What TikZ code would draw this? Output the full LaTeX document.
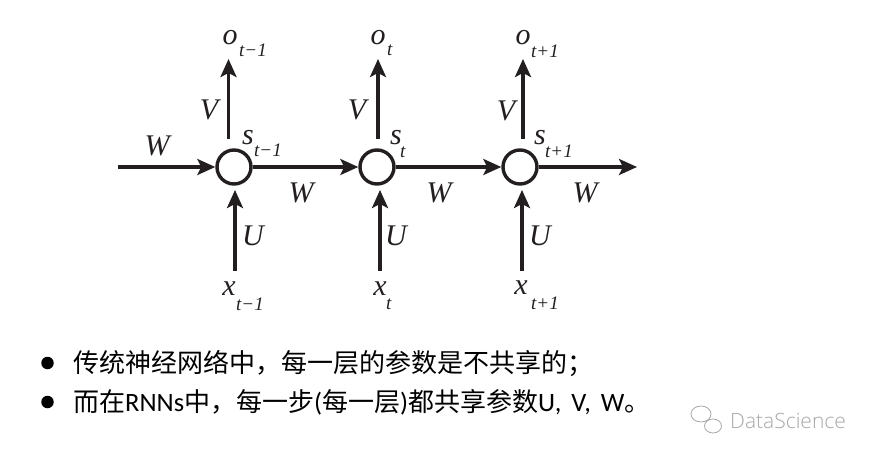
\documentclass[tikz,border=0pt]{standalone}
\usepackage{fontspec}
\setmainfont{Liberation Serif}
\newfontfamily\cjk{Noto Sans CJK SC}
\newfontfamily\carl{Carlito}
\newfontfamily\wmfont{Open Sans Light}
\usetikzlibrary{arrows.meta}
\definecolor{arrowc}{HTML}{231F20}
\definecolor{wmgrey}{HTML}{A8A8A8}
\newcommand{\lt}[1]{{\carl\fontsize{26.5}{29}\selectfont #1}}
\begin{document}
\begin{tikzpicture}[x=1pt,y=-1pt,
  cell/.style={circle, draw=arrowc, line width=3.4pt, minimum size=34pt, inner sep=0pt},
  arr/.style={line width=3.2pt, draw=arrowc, -{Stealth[length=18pt,width=16pt,inset=4pt]}},
  lbl/.style={font=\fontsize{30}{33}\selectfont\itshape, inner sep=0pt, text=arrowc},
  sub/.style={font=\fontsize{19}{21}\selectfont\itshape, inner sep=0pt, anchor=west, text=arrowc},
  txt/.style={font=\fontsize{26}{30}\selectfont\cjk, inner sep=0pt, anchor=west},
  bullet/.style={circle, fill=black, minimum size=12.5pt, inner sep=0pt},
]
\useasboundingbox[fill=white] (0,0) rectangle (880,458);

% cells
\node[cell] (s1) at (234,167) {};
\node[cell] (s2) at (377,167) {};
\node[cell] (s3) at (520,167) {};

% coordinates for arrow ends
\coordinate (win) at (118,167);
\coordinate (wout) at (637,167);
\foreach \i/\x in {1/228.5,2/378,3/523}{
  \coordinate (otip\i) at (\x,59);
  \coordinate (obot\i) at (\x,139);
}
\foreach \i/\x in {1/235,2/380,3/522}{
  \coordinate (xbot\i) at (\x,271);
  \coordinate (xtip\i) at (\x,190);
}

% horizontal arrows
\draw[arr] (win) -- (s1);
\draw[arr] (s1) -- (s2);
\draw[arr] (s2) -- (s3);
\draw[arr] (s3) -- (wout);

% vertical arrows
\foreach \i in {1,2,3}{
  \draw[arr] (obot\i) -- (otip\i);
  \draw[arr] (xbot\i) -- (xtip\i);
}

% W labels
\node[lbl] (w0) at (157,146) {W};
\node[lbl] (w1) at (301,193) {W};
\node[lbl] (w2) at (439,193) {W};
\node[lbl] (w3) at (585,193) {W};

% V labels
\node[lbl] (v1) at (209,110) {V};
\node[lbl] (v2) at (357,110) {V};
\node[lbl] (v3) at (506,111) {V};

% U labels
\node[lbl] (u1) at (253,236) {U};
\node[lbl] (u2) at (396,236) {U};
\node[lbl] (u3) at (540,236) {U};

% o labels
\node[lbl] (o1) at (230,38) {o};
\node[sub] (o1s) at (239,50) {t−1};
\node[lbl] (o2) at (378,38) {o};
\node[sub] (o2s) at (387,50) {t};
\node[lbl] (o3) at (523,38) {o};
\node[sub] (o3s) at (531,51) {t+1};

% s labels
\node[lbl] (ss1) at (248,138) {s};
\node[sub] (ss1s) at (254,150) {t−1};
\node[lbl] (ss2) at (396,138) {s};
\node[sub] (ss2s) at (400,152) {t};
\node[lbl] (ss3) at (540,138) {s};
\node[sub] (ss3s) at (545,151) {t+1};

% x labels
\node[lbl] (x1) at (229,289) {x};
\node[sub] (x1s) at (236,304) {t−1};
\node[lbl] (x2) at (380,289) {x};
\node[sub] (x2s) at (386,304) {t};
\node[lbl] (x3) at (521,288) {x};
\node[sub] (x3s) at (531,303) {t+1};

% bullet text
\node[bullet] (b1) at (47.5,363) {};
\node[txt] (t1) at (73,363) {传统神经网络中，每一层的参数是不共享的；};
\node[bullet] (b2) at (47.5,402) {};
\node[txt] (t2) at (73,402) {而在\lt{RNNs}中，每一步\lt{(}每一层\lt{)}都共享参数\lt{U,\hspace{10pt}V,\hspace{10pt}W}。};

% watermark
\node[font=\fontsize{21}{24}\selectfont\wmfont, text=wmgrey, inner sep=0pt, anchor=west] (wm) at (730,421) {DataScience};
\draw[wmgrey, line width=0.8pt] (701,414) ellipse (10pt and 8pt);
\draw[wmgrey, line width=0.8pt, fill=white] (713,426) ellipse (8.5pt and 7pt);
\end{tikzpicture}
\end{document}
